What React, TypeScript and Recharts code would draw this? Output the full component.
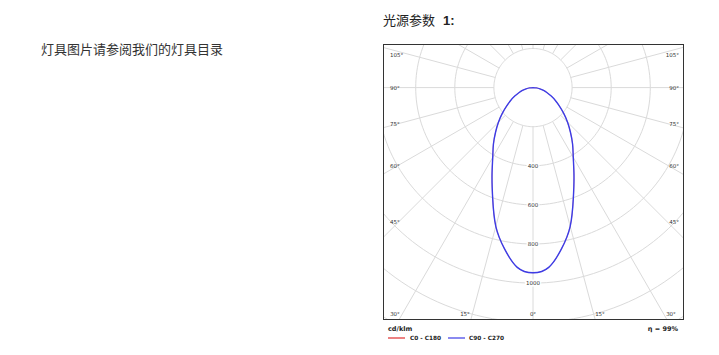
import React from 'react';
import { ComposedChart, Line, Scatter, XAxis, YAxis } from 'recharts';

// ---------- data ----------
const gammaDeg = [0, 5, 10, 15, 20, 25, 30, 35, 40, 45, 50, 55, 60, 65, 70, 75, 80, 85, 90];
const intensityC0C180 = [947, 923, 838, 735, 603, 496, 412, 353, 298, 250, 205, 165, 132, 103, 77, 56, 36, 17, 0];
const intensityC90C270 = [947, 923, 838, 735, 603, 496, 412, 353, 298, 250, 205, 165, 132, 103, 77, 56, 36, 17, 0];
const radiusTicks = [400, 600, 800, 1000];
const gridRadii = [200, 400, 600, 800, 1000, 1200, 1400];
const radialAngles = [0, 15, 30, 45, 60, 75, 90, 105, 120, 135, 150, 165, 180, 195, 210, 225, 240, 255, 270, 285, 300, 315, 330, 345];
const sideAngleLabels = ['105°', '90°', '75°', '60°', '45°'];
const bottomAngleLabels = ['30°', '15°', '0°', '15°', '30°'];
const legendNames = ['C0 - C180', 'C90 - C270'];
const unitLabel = 'cd/klm';
const efficiencyLabel = 'η = 99%';
const titleText = '光源参数';
const titleNumber = '1:';
const noteText = '灯具图片请参阅我们的灯具目录';

// ---------- layout ----------
const BOX = { left: 384, top: 45, width: 299, height: 274 };
const CENTER = { x: 533, y: 87.6 };
const UNITS_PER_PX = 200 / 39.1;
const X_DOMAIN: [number, number] = [
  (BOX.left - CENTER.x) * UNITS_PER_PX,
  (BOX.left + BOX.width - CENTER.x) * UNITS_PER_PX,
];
const Y_DOMAIN: [number, number] = [
  -(BOX.top + BOX.height - CENTER.y) * UNITS_PER_PX,
  (CENTER.y - BOX.top) * UNITS_PER_PX,
];
const SIDE_LABEL_Y = [55, 87.5, 124, 165.5, 222];
const BOTTOM_LABEL_X = [395, 465, 533, 600, 671];
const BOTTOM_LABEL_Y = 313.5;

const GRID = '#dadada';
const BLUE = '#3c3ce6';
const RED = '#e03030';
const SMALL_FONT = '"DejaVu Sans", Verdana, sans-serif';

const toXY = (deg: number, r: number) => {
  const a = (deg * Math.PI) / 180;
  return { x: r * Math.sin(a), y: -r * Math.cos(a) };
};

const curvePoints = (vals: number[]) => {
  const pts: { x: number; y: number }[] = [];
  for (let i = gammaDeg.length - 1; i >= 0; i--) pts.push(toXY(-gammaDeg[i], vals[i]));
  for (let i = 1; i < gammaDeg.length; i++) pts.push(toXY(gammaDeg[i], vals[i]));
  return pts;
};

const circlePoints = (r: number) => {
  const pts: { x: number; y: number }[] = [];
  for (let d = 0; d <= 360; d += 2) pts.push(toXY(d, r));
  return pts;
};

const radialPoints = (deg: number) => [toXY(deg, gridRadii[0]), toXY(deg, 1700)];

const tickData = radiusTicks.map((r) => ({ ...toXY(0, r), label: String(r) }));

const TickShape = (props: any) => {
  const { cx, cy, payload } = props;
  if (cx == null || cy == null) return null;
  const w = payload.label.length * 3.6 + 2;
  return (
    <g>
      <rect x={cx - w / 2} y={cy - 3.5} width={w} height={7} fill="#fff" />
      <text
        x={cx}
        y={cy}
        textAnchor="middle"
        dominantBaseline="central"
        fontSize={5.5}
        fontFamily={SMALL_FONT}
        fill="#333"
      >
        {payload.label}
      </text>
    </g>
  );
};

export default function App() {
  return (
    <div style={{ position: 'absolute', left: 0, top: 0, width: 719, height: 355, background: '#fff' }}>
      <div
        style={{
          position: 'absolute',
          left: 383,
          top: 12,
          fontSize: 13,
          lineHeight: '16px',
          color: '#222',
          whiteSpace: 'nowrap',
        }}
      >
        <span style={{ fontFamily: '"Noto Sans CJK SC", sans-serif' }}>{titleText}</span>
        <span style={{ fontFamily: '"Liberation Sans", Arial, sans-serif', fontWeight: 'bold', marginLeft: 8 }}>
          {titleNumber}
        </span>
      </div>
      <div
        style={{
          position: 'absolute',
          left: 41,
          top: 41,
          fontSize: 13,
          lineHeight: '16px',
          color: '#333',
          whiteSpace: 'nowrap',
          fontFamily: '"Noto Sans CJK SC", sans-serif',
        }}
      >
        {noteText}
      </div>

      <div style={{ position: 'absolute', left: BOX.left, top: BOX.top }}>
        <ComposedChart width={BOX.width} height={BOX.height} margin={{ top: 0, right: 0, bottom: 0, left: 0 }}>
          <XAxis type="number" dataKey="x" domain={X_DOMAIN} allowDataOverflow hide />
          <YAxis type="number" dataKey="y" domain={Y_DOMAIN} allowDataOverflow hide />
          {gridRadii.map((r) => (
            <Line
              key={'c' + r}
              data={circlePoints(r)}
              dataKey="y"
              type="linear"
              stroke={GRID}
              strokeWidth={1}
              dot={false}
              activeDot={false}
              isAnimationActive={false}
              legendType="none"
            />
          ))}
          {radialAngles.map((a) => (
            <Line
              key={'r' + a}
              data={radialPoints(a)}
              dataKey="y"
              type="linear"
              stroke={GRID}
              strokeWidth={1}
              dot={false}
              activeDot={false}
              isAnimationActive={false}
              legendType="none"
            />
          ))}
          <Scatter data={tickData} shape={TickShape} isAnimationActive={false} legendType="none" />
          <Line
            data={curvePoints(intensityC0C180)}
            dataKey="y"
            type="natural"
            stroke={RED}
            strokeWidth={0.4}
            dot={false}
            activeDot={false}
            isAnimationActive={false}
            name={legendNames[0]}
          />
          <Line
            data={curvePoints(intensityC90C270)}
            dataKey="y"
            type="natural"
            stroke={BLUE}
            strokeWidth={1.4}
            dot={false}
            activeDot={false}
            isAnimationActive={false}
            name={legendNames[1]}
          />
        </ComposedChart>
      </div>

      <div
        style={{
          position: 'absolute',
          left: BOX.left - 1,
          top: BOX.top - 1,
          width: BOX.width,
          height: BOX.height,
          border: '1px solid #333',
          pointerEvents: 'none',
        }}
      />

      <svg
        width={719}
        height={355}
        style={{ position: 'absolute', left: 0, top: 0, pointerEvents: 'none' }}
      >
        <g fontFamily={SMALL_FONT} fontSize={5.5} fill="#333">
          {sideAngleLabels.map((t, i) => (
            <text key={'l' + i} x={390} y={SIDE_LABEL_Y[i]} dominantBaseline="central" textAnchor="start">
              {t}
            </text>
          ))}
          {sideAngleLabels.map((t, i) => (
            <text key={'rr' + i} x={679} y={SIDE_LABEL_Y[i]} dominantBaseline="central" textAnchor="end">
              {t}
            </text>
          ))}
          {bottomAngleLabels.map((t, i) => (
            <text key={'b' + i} x={BOTTOM_LABEL_X[i]} y={BOTTOM_LABEL_Y} dominantBaseline="central" textAnchor="middle">
              {t}
            </text>
          ))}
        </g>
        <g fontFamily={SMALL_FONT} fill="#222" fontWeight="bold">
          <text x={388} y={329} fontSize={6.5} dominantBaseline="central">
            {unitLabel}
          </text>
          <text x={678} y={329} fontSize={6.5} dominantBaseline="central" textAnchor="end">
            {efficiencyLabel}
          </text>
          <line x1={388} x2={405} y1={338} y2={338} stroke={RED} strokeWidth={1.2} />
          <text x={410} y={338} fontSize={5.8} dominantBaseline="central">
            {legendNames[0]}
          </text>
          <line x1={448} x2={465} y1={338} y2={338} stroke={BLUE} strokeWidth={1.2} />
          <text x={469} y={338} fontSize={5.8} dominantBaseline="central">
            {legendNames[1]}
          </text>
        </g>
      </svg>
    </div>
  );
}
